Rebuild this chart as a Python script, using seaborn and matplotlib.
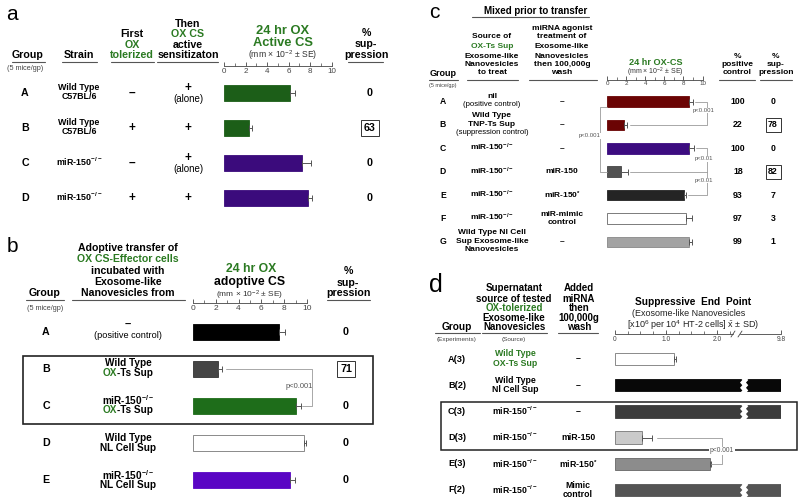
import numpy as np
import pandas as pd
import matplotlib
matplotlib.use('Agg')
import matplotlib.pyplot as plt
import seaborn as sns
from matplotlib.lines import Line2D
from matplotlib.patches import Rectangle, Polygon

# ---------------- data ----------------
# panel a
a_groups = ['A', 'B', 'C', 'D']
a_strain = ['Wild Type\nC57BL/6', 'Wild Type\nC57BL/6', 'miR-150$^{-/-}$', 'miR-150$^{-/-}$']
a_tolerized = ['–', '+', '–', '+']
a_alone = [True, False, True, False]
a_cs = [6.1, 2.3, 7.3, 7.8]
a_se = [0.5, 0.3, 0.8, 0.4]
a_supp = ['0', '63', '0', '0']
a_boxed = [False, True, False, False]

# panel b
b_groups = ['A', 'B', 'C', 'D', 'E']
b_src_top = ['–', 'Wild Type', 'miR-150$^{-/-}$', 'Wild Type', 'miR-150$^{-/-}$']
b_src_bot = ['(positive control)', 'OX-Ts Sup', 'OX-Ts Sup', 'NL Cell Sup', 'NL Cell Sup']
b_cs = [7.5, 2.2, 9.0, 9.75, 8.5]
b_se = [0.6, 0.3, 0.45, 0.2, 0.45]
b_supp = ['0', '71', '0', '0', '0']
b_boxed = [False, True, False, False, False]

# panel c
c_groups = ['A', 'B', 'C', 'D', 'E', 'F', 'G']
c_source = ['nil', 'Wild Type\nTNP-Ts Sup', 'miR-150$^{-/-}$', 'miR-150$^{-/-}$',
            'miR-150$^{-/-}$', 'miR-150$^{-/-}$', 'Wild Type Nl Cell\nSup Exosome-like\nNanovesicles']
c_note = ['(positive control)', '(suppression control)', '', '', '', '', '']
c_agonist = ['–', '–', '–', 'miR-150', 'miR-150$^{*}$', 'miR-mimic\ncontrol', '–']
c_cs = [8.6, 1.8, 8.6, 1.5, 8.1, 8.3, 8.6]
c_se = [0.45, 0.3, 0.5, 0.65, 0.2, 0.6, 0.25]
c_pos = ['100', '22', '100', '18', '93', '97', '99']
c_supp = ['0', '78', '0', '82', '7', '3', '1']
c_boxed = [False, True, False, True, False, False, False]

# panel d
d_groups = ['A(3)', 'B(2)', 'C(3)', 'D(3)', 'E(3)', 'F(2)']
d_source = ['Wild Type\nOX-Ts Sup', 'Wild Type\nNl Cell Sup', 'miR-150$^{-/-}$',
            'miR-150$^{-/-}$', 'miR-150$^{-/-}$', 'miR-150$^{-/-}$']
d_added = ['–', '–', '–', 'miR-150', 'miR-150$^{*}$', 'Mimic\ncontrol']
d_endpoint = [1.15, 9.8, 9.8, 0.53, 1.86, 9.8]
d_sd = [0.04, 0.0, 0.0, 0.19, 0.03, 0.0]

# ---------------- style ----------------
sns.set_style('white')
plt.rcParams['font.family'] = ['Liberation Sans', 'DejaVu Sans']
plt.rcParams['mathtext.fontset'] = 'custom'
plt.rcParams['mathtext.rm'] = 'Liberation Sans'
plt.rcParams['mathtext.it'] = 'Liberation Sans:italic'
plt.rcParams['mathtext.bf'] = 'Liberation Sans:bold'
plt.rcParams['mathtext.default'] = 'regular'

W, H = 800, 503
fig = plt.figure(figsize=(W / 100, H / 100), dpi=100)
R = fig.canvas.get_renderer()
GREEN = '#2b7a22'
GRAY = '#9a9a9a'


def T(x, y, s, size=7.0, weight='bold', color='black', ha='center', box=False, bg=False):
    kw = {}
    if box:
        kw['bbox'] = dict(boxstyle='square,pad=0.3', fc='white', ec='#333', lw=0.7)
    elif bg:
        kw['bbox'] = dict(boxstyle='square,pad=0.08', fc='white', ec='none')
    return fig.text(x / W, 1 - y / H, s, fontsize=size, fontweight=weight, color=color,
                    ha=ha, va='center', multialignment='center', **kw)


def L(xs, ys, color='#555', lw=0.8):
    fig.add_artist(Line2D([v / W for v in xs], [1 - v / H for v in ys], color=color, lw=lw))


def MT(x, y, parts, size=7.0, weight='bold'):
    ws = []
    for s, c in parts:
        t = fig.text(0, 0, s, fontsize=size, fontweight=weight)
        ws.append(t.get_window_extent(R).width)
        t.remove()
    x0 = x - sum(ws) / 2
    for (s, c), w in zip(parts, ws):
        fig.text(x0 / W, 1 - y / H, s, fontsize=size, fontweight=weight, color=c, ha='left', va='center')
        x0 += w


def stack(x, yc, lines, pitch):
    n = len(lines)
    for k, (s, size, weight, color) in enumerate(lines):
        y = yc + (k - (n - 1) / 2) * pitch
        if isinstance(s, list):
            MT(x, y, s, size, weight)
        else:
            T(x, y, s, size, weight, color)


def bar_panel(x0, x1, y_axis, y_bot, row0, step, groups, vals, errs, colors, edges, thick, xmax,
              major, minor, labelsize, ticklabels=None):
    ax = fig.add_axes([x0 / W, 1 - y_bot / H, (x1 - x0) / W, (y_bot - y_axis) / H])
    df = pd.DataFrame({'g': groups, 'v': vals})
    sns.barplot(data=df, x='v', y='g', hue='g', palette=dict(zip(groups, colors)), orient='h',
                width=thick, saturation=1, legend=False, ax=ax, linewidth=0.6)
    for p, ec in zip(ax.patches, edges):
        p.set_edgecolor(ec)
    pos = np.arange(len(groups))
    v = np.array(vals, float)
    e = np.array(errs, float)
    m = e > 0
    ax.errorbar(v[m], pos[m], xerr=[np.zeros(m.sum()), e[m]], fmt='none', ecolor='#555',
                elinewidth=0.7, capsize=2.0, capthick=0.7)
    ax.set_ylim((y_bot - row0) / step, (y_axis - row0) / step)
    ax.set_xlim(0, xmax)
    ax.set_xlabel('')
    ax.set_ylabel('')
    ax.set_yticks([])
    ax.patch.set_visible(False)
    for s in ['top', 'left', 'right']:
        ax.spines[s].set_visible(False)
    ax.spines['bottom'].set_position(('axes', 1.0))
    ax.spines['bottom'].set_color('#444')
    ax.spines['bottom'].set_linewidth(0.6)
    ax.set_xticks(major)
    if ticklabels is not None:
        ax.set_xticklabels(ticklabels)
    ax.set_xticks(minor, minor=True)
    ax.tick_params(axis='x', which='both', bottom=True, direction='in', color='#444',
                   labelcolor='#444', labelsize=labelsize, pad=1.2)
    ax.tick_params(axis='x', which='major', length=3.0, width=0.6)
    ax.tick_params(axis='x', which='minor', length=2.0, width=0.5)
    return ax


# ======================= panel a =======================
a_row0, a_step = 93, 35
T(12, 14, 'a', 15, 'normal')
T(28, 55, 'Group', 7.7); L([12, 45], [62, 62]); T(25, 68.5, '(5 mice/gp)', 5.2, 'normal', '#444')
T(79, 55, 'Strain', 7.7); L([62, 97], [62, 62])
T(132, 34, 'First', 7.7); T(132, 45, 'OX', 7.7, color=GREEN); T(132, 55, 'tolerized', 7.7, color=GREEN)
L([111, 154], [62, 62])
T(188, 24, 'Then', 7.7); T(188, 34, 'OX CS', 7.7, color=GREEN); T(188, 45, 'active', 7.7)
T(188, 55, 'sensitizaton', 7.7); L([157, 218], [62, 62])
T(283, 31, '24 hr OX', 9.3, color=GREEN); T(283, 43, 'Active CS', 9.3, color=GREEN)
T(283, 55.5, '(mm × 10$^{-2}$ ± SE)', 6.2, 'normal', '#333')
T(366, 33, '%', 7.7); T(366, 44, 'sup-', 7.7); T(366, 55, 'pression', 7.7); L([348, 383], [62, 62])

for i in range(len(a_groups)):
    y = a_row0 + a_step * i
    T(25, y, a_groups[i], 7.7)
    stack(79, y - 1, [(s, 6.4, 'bold', 'black') for s in a_strain[i].split('\n')], 8.2)
    T(132, y, a_tolerized[i], 8.5)
    if a_alone[i]:
        T(188, y - 5, '+', 8.5); T(188, y + 6.5, '(alone)', 7.0, 'normal')
    else:
        T(188, y, '+', 8.5)
    T(370, y, a_supp[i], 7.7, box=a_boxed[i])

bar_panel(224, 331.5, 66, 215, a_row0, a_step, a_groups, a_cs, a_se,
          ['#1c5e18', '#1c5e18', '#3b0b7c', '#3b0b7c'], ['#1c5e18', '#1c5e18', '#3b0b7c', '#3b0b7c'],
          0.46, 10, [0, 2, 4, 6, 8, 10], [1, 3, 5, 7, 9], 5.8)

# ======================= panel b =======================
b_row0, b_step = 332, 37
T(12, 246, 'b', 15, 'normal')
T(45, 293, 'Group', 7.7); L([26, 64], [300, 300]); T(45, 309, '(5 mice/gp)', 5.2, 'normal', '#444')
T(128, 248, 'Adoptive transfer of', 7.6); T(128, 259, 'OX CS-Effector cells', 7.6, color=GREEN)
T(128, 271, 'incubated with', 7.6); T(128, 282, 'Exosome-like', 7.6); T(128, 293, 'Nanovesicles from', 7.6)
L([72, 185], [300, 300])
T(251, 268.5, '24 hr OX', 8.8, color=GREEN); T(250, 281.5, 'adoptive CS', 8.8)
T(250, 295, '(mm × 10$^{-2}$ ± SE)', 6.0, 'normal', '#333')
T(348, 271, '%', 7.7); T(348, 283, 'sup-', 7.7); T(348, 293, 'pression', 7.7); L([327, 370], [300, 300])

for i in range(len(b_groups)):
    y = b_row0 + b_step * i
    T(46, y, b_groups[i], 7.7)
    top = b_src_top[i]
    bot = b_src_bot[i]
    if bot.startswith('('):
        stack(128, y - 1.5, [(top, 8, 'bold', 'black'), (bot, 6.6, 'normal', 'black')], 11)
    elif bot.startswith('OX'):
        stack(128, y - 1, [(top, 7.2, 'bold', 'black'),
                           ([('OX', GREEN), (bot[2:], 'black')], 7.2, 'bold', 'black')], 10.5)
    else:
        stack(128, y, [(top, 7.2, 'bold', 'black'), (bot, 7.2, 'bold', 'black')], 10.5)
    T(346, y, b_supp[i], 7.7, box=b_boxed[i])

axb = bar_panel(193, 307, 303, 500, b_row0, b_step, b_groups, b_cs, b_se,
                ['#000000', '#454545', '#1e6d1a', '#ffffff', '#5a05c4'],
                ['#000000', '#333333', '#1e6d1a', '#777777', '#5a05c4'],
                0.45, 10, [0, 2, 4, 6, 8, 10], [1, 3, 5, 7, 9], 6.0)
xb = 10.45
axb.plot([b_cs[1] + b_se[1] + 0.4, xb, xb, b_cs[2] + b_se[2] + 0.1], [1, 1, 2, 2],
         color=GRAY, lw=0.6, clip_on=False)
axb.text(9.3, 1.47, 'p<0.001', fontsize=5.5, color='#555', ha='center', va='center')
fig.add_artist(Rectangle((23 / W, 1 - 424 / H), 350 / W, 68 / H, fill=False, ec='#222', lw=1.2))

# ======================= panel c =======================
c_row0, c_step = 101.5, 23.4
T(434, 12, 'c', 15, 'normal')
T(536, 11, 'Mixed prior to transfer', 7.0); L([472, 589], [16.5, 16.5])
for yy, s, col in zip([36, 46, 56, 65, 73],
                      ['Source of', 'OX-Ts Sup', 'Exosome-like', 'Nanovesicles', 'to treat'],
                      ['black', GREEN, 'black', 'black', 'black']):
    T(492, yy, s, 6.0, color=col)
L([467, 518], [80, 80])
for yy, s in zip([28, 37, 47, 56, 65, 73],
                 ['miRNA agonist', 'treatment of', 'Exosome-like', 'Nanovesicles', 'then 100,000g', 'wash']):
    T(562, yy, s, 6.0)
L([529, 597], [80, 80])
T(443, 73, 'Group', 6.5); L([429, 458], [80, 80]); T(443, 85, '(5 mice/gp)', 4.0, 'normal', '#444')
T(656, 62.5, '24 hr OX-CS', 6.6, color=GREEN)
T(655, 72.8, '(mm × 10$^{-2}$ ± SE)', 5.0, 'normal', '#333')
for yy, s in zip([56, 65, 73], ['%', 'positive', 'control']):
    T(737, yy, s, 6.0)
L([719, 755], [80, 80])
for yy, s in zip([56, 65, 73], ['%', 'sup-', 'pression']):
    T(776, yy, s, 6.0)
L([760, 792], [80, 80])

for i in range(len(c_groups)):
    y = c_row0 + c_step * i
    T(443, y, c_groups[i], 6.2)
    lines = [(s, 6.0, 'bold', 'black') for s in c_source[i].split('\n')]
    if c_note[i]:
        lines.append((c_note[i], 5.6, 'normal', 'black'))
    stack(492, y - 0.8, lines, 8.4)
    stack(562, y, [(s, 6.0, 'bold', 'black') for s in c_agonist[i].split('\n')], 8.4)
    T(738, y, c_pos[i], 6.3)
    T(773, y, c_supp[i], 6.3, box=c_boxed[i])

axc = bar_panel(607, 702.5, 79.5, 256, c_row0, c_step, c_groups, c_cs, c_se,
                ['#6b0404', '#6b0404', '#3c0c80', '#525252', '#242424', '#ffffff', '#a3a3a3'],
                ['#6b0404', '#6b0404', '#3c0c80', '#444444', '#242424', '#666666', '#888888'],
                0.45, 10, [0, 2, 4, 6, 8, 10], [1, 3, 5, 7, 9], 4.5)
xc = 10.5
axc.plot([c_cs[0] + c_se[0] + 0.2, xc, xc, c_cs[1] + c_se[1] + 0.3], [0, 0, 1, 1],
         color=GRAY, lw=0.6, clip_on=False)
axc.plot([c_cs[2] + c_se[2] + 0.2, xc, xc, c_cs[4] + c_se[4] + 0.2], [2, 2, 4, 4],
         color=GRAY, lw=0.6, clip_on=False)
axc.plot([c_cs[3] + c_se[3] + 0.3, xc], [3, 3], color=GRAY, lw=0.6, clip_on=False)
axc.plot([0, -0.7, -0.7, 0], [0.22, 0.22, 3, 3], color=GRAY, lw=0.6, clip_on=False)
for xx, yy in [(10.1, 0.38), (10.1, 2.45), (10.1, 3.38)]:
    s = 'p<0.001' if yy < 1 else 'p<0.01'
    axc.text(xx, yy, s, fontsize=4.3, color='#555', ha='center', va='center',
             bbox=dict(boxstyle='square,pad=0.05', fc='white', ec='none'))
axc.text(-1.8, 1.47, 'p<0.001', fontsize=4.3, color='#555', ha='center', va='center',
         bbox=dict(boxstyle='square,pad=0.05', fc='white', ec='none'))

# ======================= panel d =======================
d_row0, d_step = 359, 26.2
T(436, 285, 'd', 18, 'normal')
T(457, 327, 'Group', 7.3); L([435, 480], [333, 333]); T(457, 339.5, '(Experiments)', 4.6, 'normal', '#444')
for yy, s, col in zip([288, 299, 308, 318, 327],
                      ['Supernatant', 'source of tested', 'OX-tolerized', 'Exosome-like', 'Nanovesicles'],
                      ['black', 'black', GREEN, 'black', 'black']):
    T(514, yy, s, 7.0, color=col)
L([482, 547], [333, 333]); T(514, 339.5, '(Source)', 4.6, 'normal', '#444')
for yy, s in zip([288, 299, 308, 318, 327], ['Added', 'miRNA', 'then', '100,000g', 'wash']):
    T(579, yy, s, 7.0)
L([558, 598], [333, 333])
T(693, 302, 'Suppressive  End  Point', 7.3)
T(689, 313, '(Exosome-like Nanovesicles', 6.5, 'normal', '#222')
T(693, 325.5, '[x10$^{6}$ per 10$^{4}$ HT-2 cells] $\\bar{x}$ ± SD)', 6.5, 'normal', '#222')

for i in range(len(d_groups)):
    y = d_row0 + d_step * i
    T(457, y, d_groups[i], 6.6)
    col = GREEN if 'OX' in d_source[i] else 'black'
    stack(515, y - 0.5, [(s, 6.3, 'bold', col) for s in d_source[i].split('\n')], 9)
    stack(578, y, [(s, 6.3, 'bold', 'black') for s in d_added[i].split('\n')], 8.5)

BRK, K = 2.3, 0.128


def d_fwd(x):
    x = np.asarray(x, dtype=float)
    return np.where(x <= BRK, x, BRK + (x - BRK) * K)


def d_inv(y):
    y = np.asarray(y, dtype=float)
    return np.where(y <= BRK, y, BRK + (y - BRK) / K)


d_colors = ['#ffffff', '#080808', '#3c3c3c', '#cacaca', '#8c8c8c', '#545454']
d_edges = ['#777777', '#080808', '#3c3c3c', '#777777', '#666666', '#545454']
axd = bar_panel(615, 781, 334, 500, d_row0, d_step, d_groups, d_endpoint, d_sd,
                d_colors, d_edges, 0.48, 9.8, [0, 1, 2, 9.8],
                [0.25, 0.5, 0.75, 1.25, 1.5, 1.75, 2.25], 4.8, ['0', '1.0', '2.0', '9.8'])
axd.set_xscale('function', functions=(d_fwd, d_inv))
axd.set_xlim(0, 9.8)
axd.set_xticks([0, 1, 2, 9.8])
axd.set_xticklabels(['0', '1.0', '2.0', '9.8'])
axd.set_xticks([0.25, 0.5, 0.75, 1.25, 1.5, 1.75, 2.25], minor=True)
axd.spines['bottom'].set_visible(False)
# axis line with break
L([615, 733], [334, 334], '#444', 0.6)
L([740, 781], [334, 334], '#444', 0.6)
L([731, 735], [337, 331], '#444', 0.6)
L([738, 742], [337, 331], '#444', 0.6)
# jagged breaks on full bars
xc_f, gap, amp = 0.771, 0.036, 0.014
zz = np.array([0, 1, 0, 1, 0, 1, 0])
for i, v in enumerate(d_endpoint):
    if v >= 9.8:
        ys = i + np.linspace(-0.3, 0.3, len(zz))
        left = np.column_stack([xc_f - gap / 2 + amp * zz, ys])
        right = np.column_stack([xc_f + gap / 2 + amp * zz, ys])[::-1]
        axd.add_patch(Polygon(np.vstack([left, right]), closed=True, fc='white', ec='none',
                              transform=axd.get_yaxis_transform(), clip_on=False, zorder=5))
xd = 2.1
axd.plot([d_endpoint[3] + d_sd[3] + 0.1, xd, xd, d_endpoint[4] + d_sd[4]], [3, 3, 4, 4],
         color=GRAY, lw=0.6, clip_on=False)
fig.add_artist(Rectangle((441 / W, 1 - 450 / H), 356 / W, 48 / H, fill=False, ec='#222', lw=1.1))
fig.text(xd, 3.5, 'p<0.001', transform=axd.transData, fontsize=4.8, color='#555', ha='center',
         va='center', bbox=dict(boxstyle='square,pad=0.1', fc='white', ec='none'))

fig.savefig('out.png', dpi=100, facecolor='white')
